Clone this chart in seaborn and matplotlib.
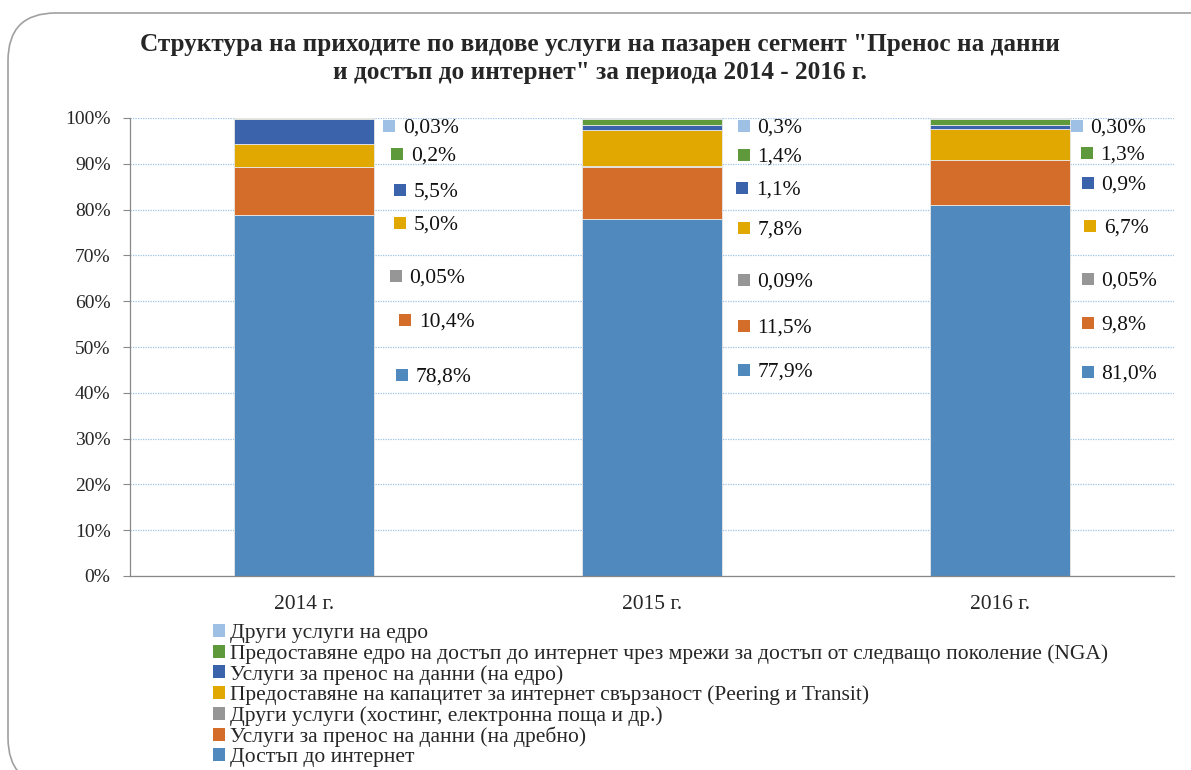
import matplotlib
matplotlib.use("Agg")
import matplotlib.pyplot as plt
from matplotlib.patches import FancyBboxPatch, Patch
import seaborn as sns
import pandas as pd
import numpy as np

years = ["2014 г.", "2015 г.", "2016 г."]
# bottom -> top stacking order
categories = [
    "Достъп до интернет",
    "Услуги за пренос на данни (на дребно)",
    "Други услуги (хостинг, електронна поща и др.)",
    "Предоставяне на капацитет за интернет свързаност (Peering и Transit)",
    "Услуги за пренос на данни (на едро)",
    "Предоставяне едро на достъп до интернет чрез мрежи за достъп от следващо поколение (NGA)",
    "Други услуги на едро",
]
internet_access = [78.8, 77.9, 81.0]
retail_data = [10.4, 11.5, 9.8]
other_services = [0.05, 0.09, 0.05]
capacity = [5.0, 7.8, 6.7]
wholesale_data = [5.5, 1.1, 0.9]
nga_wholesale = [0.2, 1.4, 1.3]
other_wholesale = [0.03, 0.3, 0.30]
series = [internet_access, retail_data, other_services, capacity,
          wholesale_data, nga_wholesale, other_wholesale]
labels = [
    ["78,8%", "77,9%", "81,0%"],
    ["10,4%", "11,5%", "9,8%"],
    ["0,05%", "0,09%", "0,05%"],
    ["5,0%", "7,8%", "6,7%"],
    ["5,5%", "1,1%", "0,9%"],
    ["0,2%", "1,4%", "1,3%"],
    ["0,03%", "0,3%", "0,30%"],
]
colors = ["#4F89BD", "#D46D2A", "#969696", "#E0A800", "#3B63AC", "#5E9A3C", "#9DC0E4"]

# label layout (positions of the manually placed data labels, in axis %)
label_y = [
    [43.9, 45.0, 44.5],
    [55.9, 54.6, 55.2],
    [65.5, 64.6, 64.8],
    [77.1, 76.0, 76.4],
    [84.3, 84.7, 85.8],
    [92.1, 91.9, 92.4],
    [98.25, 98.25, 98.25],
]
label_dx = [
    [0.282, 0.263, 0.252],
    [0.290, 0.263, 0.252],
    [0.263, 0.263, 0.252],
    [0.275, 0.263, 0.258],
    [0.275, 0.260, 0.252],
    [0.268, 0.263, 0.249],
    [0.245, 0.263, 0.220],
]

sns.set_theme(style="white")
plt.rcParams["font.family"] = ["Liberation Serif", "DejaVu Serif"]

fig = plt.figure(figsize=(11.91, 7.7), dpi=100)
ax = fig.add_axes([130/1191, 1-576/770, (1174-130)/1191, (576-118)/770])

bottom = np.zeros(len(years))
for vals, col, name in zip(series, colors, categories):
    df = pd.DataFrame({"year": years, "value": vals})
    sns.barplot(data=df, x="year", y="value", color=col, bottom=bottom,
                width=0.4, ax=ax, edgecolor="#E8E8E8", linewidth=0.6,
                saturation=1, errorbar=None)
    bottom = bottom + np.array(vals)

for si, (col, labs) in enumerate(zip(colors, labels)):
    for i in range(len(years)):
        x = i + label_dx[si][i]
        y = label_y[si][i]
        ax.scatter([x], [y], marker="s", s=75, color=col, zorder=5, clip_on=False,
                   linewidths=0)
        ax.text(x + 0.040, y - 0.45, labs[i], fontsize=15.5, va="center", ha="left",
                color="#111111")

ax.set_xlim(-0.5, 2.5)
ax.set_ylim(0, 100)
ax.set_yticks(np.arange(0, 101, 10))
ax.set_yticklabels([f"{v}%" for v in range(0, 101, 10)], fontsize=14)
ax.tick_params(axis="x", labelsize=15.5, length=0, pad=14)
ax.tick_params(axis="y", length=5, width=0.8, color="#888888", direction="out", left=True, pad=9)
ax.set_xlabel("")
ax.set_ylabel("")
ax.yaxis.grid(True, linestyle=(0, (1, 1)), color="#9DC3E6", linewidth=0.9)
ax.set_axisbelow(True)
for s in ["top", "right"]:
    ax.spines[s].set_visible(False)
for s in ["left", "bottom"]:
    ax.spines[s].set_color("#888888")
    ax.spines[s].set_linewidth(0.9)

fig.text(600/1191, 1-45/770,
         "Структура на приходите по видове услуги на пазарен сегмент \"Пренос на данни",
         ha="center", va="center", fontsize=18.2, fontweight="bold")
fig.text(600/1191, 1-73/770,
         "и достъп до интернет\" за периода 2014 - 2016 г.",
         ha="center", va="center", fontsize=18.2, fontweight="bold")

handles = [Patch(facecolor=c, edgecolor="none") for c in colors[::-1]]
fig.legend(handles, categories[::-1], loc="upper left",
           bbox_to_anchor=(213/1191, 1-624/770), frameon=False, fontsize=15.5,
           handlelength=0.55, handleheight=0.55, handletextpad=0.25,
           labelspacing=0.045, borderaxespad=0, borderpad=0)

box = FancyBboxPatch((8/1191, -0.02), 1.05, (1-13/770) + 0.02,
                     boxstyle="round,pad=0,rounding_size=0.04",
                     transform=fig.transFigure, fill=False,
                     edgecolor="#A0A0A0", linewidth=1.2, mutation_aspect=1191/770)
fig.patches.append(box)

fig.savefig("out.png", dpi=100)
